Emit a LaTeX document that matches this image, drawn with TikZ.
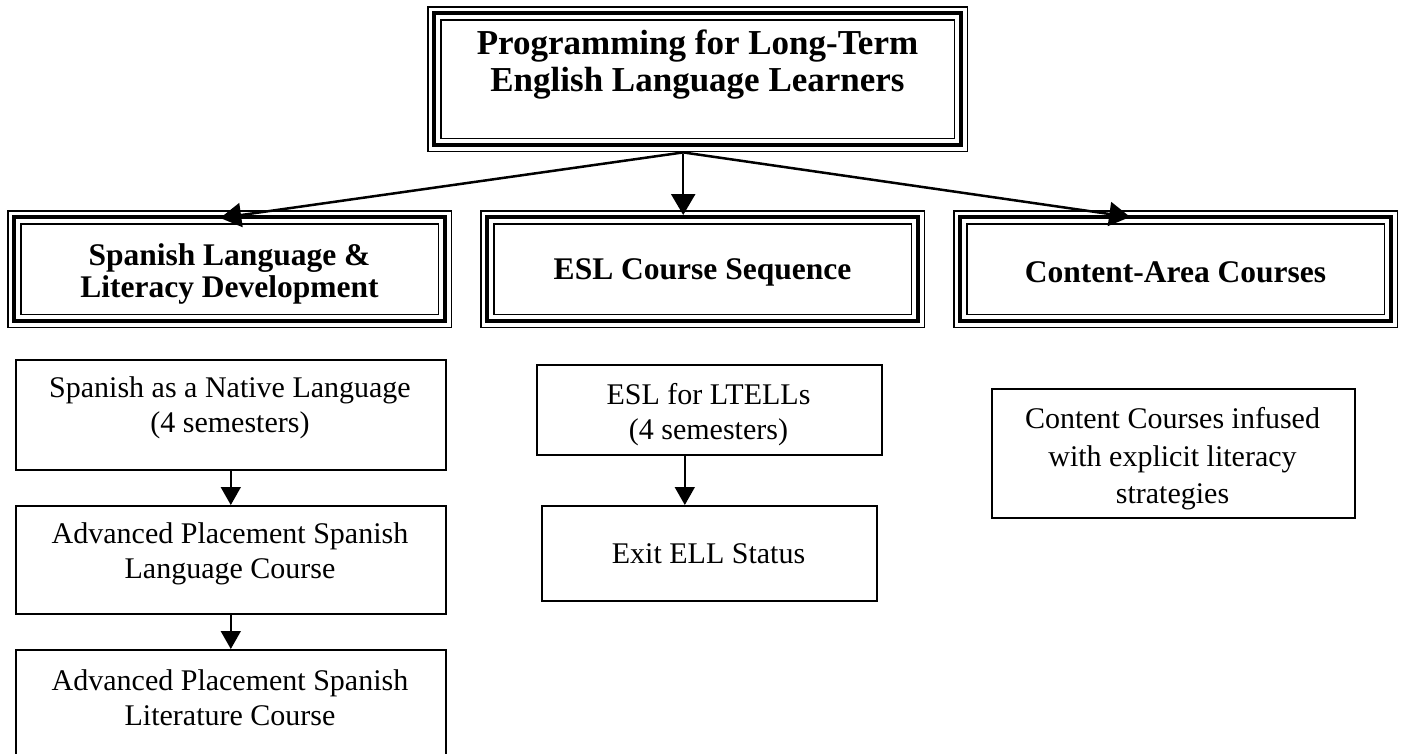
\documentclass[tikz,border=0pt]{standalone}
\usepackage{fontspec}
\setmainfont{Liberation Serif}
\usetikzlibrary{arrows.meta}
\begin{document}
\begin{tikzpicture}[x=1pt,y=-1pt,
  frame/.style={draw=none, rectangle, inner sep=0pt, anchor=north west},
  lbox/.style={draw, line width=1.6pt, rectangle, inner sep=0pt, anchor=north west},
  titletxt/.style={align=center, inner sep=0pt, font=\bfseries\fontsize{35}{37}\selectfont},
  headtxt/.style={align=center, inner sep=0pt, font=\bfseries\fontsize{31.5}{31.5}\selectfont},
  bodytxt/.style={align=center, inner sep=0pt, font=\fontsize{30}{35}\selectfont},
  bigarr/.style={line width=2.5pt, -{Triangle[width=24pt,length=21pt]}},
  smallarr/.style={line width=1.6pt, -{Triangle[width=20pt,length=18pt]}}
]
\useasboundingbox[fill=white] (0,0) rectangle (1405,753);

% triple-framed boxes
\node[frame, minimum width=541pt, minimum height=146pt] (top) at (427,6) {};
\node[frame, minimum width=445pt, minimum height=118pt] (sp) at (7,210) {};
\node[frame, minimum width=445pt, minimum height=118pt] (esl) at (480,210) {};
\node[frame, minimum width=445pt, minimum height=118pt] (ca) at (953,210) {};

\foreach \n in {top,sp,esl,ca}{
  \draw[line width=1.6pt] ([shift={(0.8,0.8)}]\n.north west) rectangle ([shift={(-0.8,-0.8)}]\n.south east);
  \draw[line width=4pt] ([shift={(7,7)}]\n.north west) rectangle ([shift={(-7,-7)}]\n.south east);
  \draw[line width=1.6pt] ([shift={(14,14)}]\n.north west) rectangle ([shift={(-14,-14)}]\n.south east);
}

\node[titletxt] (topt) at (697.5,64.5) {Programming for Long-Term\\English Language Learners};
\node[headtxt] (spt) at (229.5,274) {Spanish Language \&\\Literacy Development};
\node[headtxt] (eslt) at (702.5,272) {ESL Course Sequence};
\node[headtxt] (cat) at (1175.5,272) {Content-Area Courses};

% lower boxes
\node[lbox, minimum width=430pt, minimum height=110pt] (b1) at (15,359) {};
\node[lbox, minimum width=430pt, minimum height=108pt] (b2) at (15,505) {};
\node[lbox, minimum width=430pt, minimum height=111pt] (b3) at (15,649) {};
\node[lbox, minimum width=345pt, minimum height=90pt] (e1) at (536,364) {};
\node[lbox, minimum width=335pt, minimum height=95pt] (e2) at (541,505) {};
\node[lbox, minimum width=363pt, minimum height=129pt] (c1) at (991,388) {};

\node[bodytxt] (b1t) at (230,408) {Spanish as a Native Language\\(4 semesters)};
\node[bodytxt] (b2t) at (230,554) {Advanced Placement Spanish\\Language Course};
\node[bodytxt] (b3t) at (230,698) {Advanced Placement Spanish\\Literature Course};
\node[bodytxt] (e1t) at (708.5,415) {ESL for LTELLs\\(4 semesters)};
\node[bodytxt] (e2t) at (708.5,554) {Exit ELL Status};
\node[bodytxt, font=\fontsize{30}{37.5}\selectfont] (c1t) at (1172.5,459) {Content Courses infused\\with explicit literacy\\strategies};

% connectors
\draw[bigarr] ([shift={(-14.5,0)}]top.south) -- ([shift={(-9.5,8)}]sp.north);
\draw[bigarr] ([shift={(-14.5,2)}]top.south) -- ([shift={(-19.5,5)}]esl.north);
\draw[bigarr] ([shift={(-14.5,0)}]top.south) -- ([shift={(-45.5,7)}]ca.north);

\draw[smallarr] (b1.south) -- (b2.north);
\draw[smallarr] (b2.south) -- (b3.north);
\draw[smallarr] ([shift={(-24.5,0)}]e1.south) -- ([shift={(-24.5,0)}]e2.north);
\end{tikzpicture}
\end{document}
